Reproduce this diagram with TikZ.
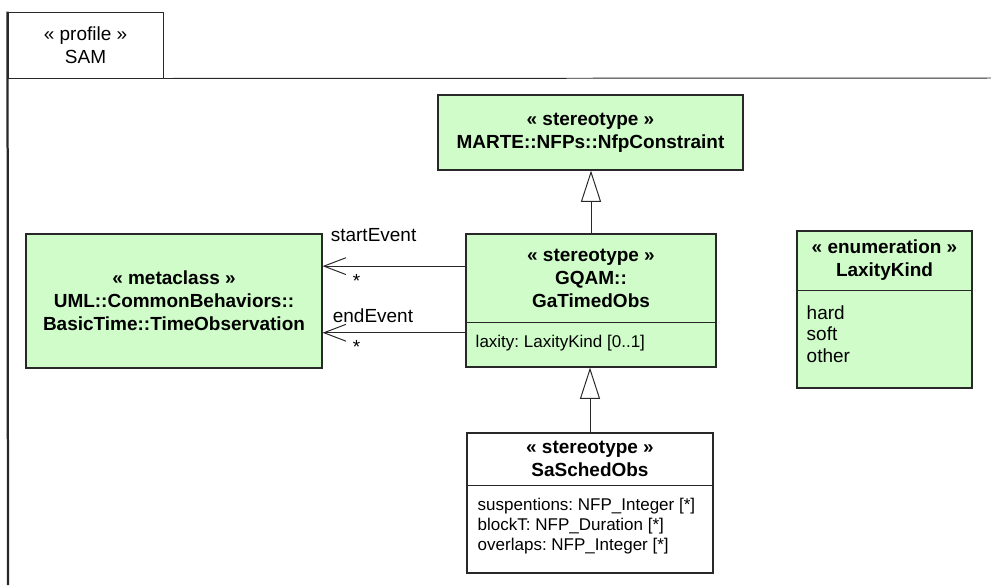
\documentclass[tikz,border=0pt]{standalone}
\usepackage{fontspec}
\setmainfont{Liberation Sans}
\usetikzlibrary{arrows.meta,calc,positioning}
\definecolor{SAMverde}{RGB}{208,252,202}
\definecolor{SAMborde}{RGB}{40,40,40}
\frenchspacing
\tikzset{
  umlbox/.style={draw=SAMborde, line width=0.8pt, fill=SAMverde, inner sep=0pt},
  titulo/.style={font=\fontsize{13.5}{16.4}\selectfont\bfseries, align=center, inner sep=0pt},
  attr/.style={font=\fontsize{12.1}{14.2}\selectfont, align=left, inner sep=0pt, anchor=north west},
  literal/.style={font=\fontsize{13.5}{15.2}\selectfont, align=left, inner sep=0pt, anchor=north west},
  etiq/.style={font=\fontsize{13.5}{16.4}\selectfont, inner sep=0pt},
  genarrow/.style={draw=SAMborde, line width=0.7pt, -{Triangle[open, length=0.78cm, width=0.5cm]}},
  assoc/.style={draw=SAMborde, line width=0.7pt, -{Straight Barb[length=0.55cm, width=0.42cm]}},
}

\begin{document}
\begin{tikzpicture}
\useasboundingbox (0,0) rectangle (24.775,-14.625);
% marco del perfil
\node[etiq, draw=SAMborde, line width=0.7pt, align=center, minimum width=3.875cm, minimum height=1.65cm] (perfil) at (2.1375,-1.125) {« profile »\\SAM};
\draw[SAMborde, line width=0.7pt] (perfil.south east) -- (24.775,-1.95);
\draw[SAMborde, line width=1.6pt] (perfil.north west) -- (0.2,-14.625);

% clases
\node[umlbox, titulo, minimum width=7.625cm, minimum height=1.875cm] (nfp) at (14.7625,-3.3125) {« stereotype »\\MARTE::NFPs::NfpConstraint};
\node[umlbox, titulo, minimum width=7.4cm, minimum height=3.35cm] (timeobs) at (4.35,-7.525) {« metaclass »\\UML::CommonBehaviors::\\BasicTime::TimeObservation};

\node[umlbox, minimum width=6.25cm, minimum height=3.325cm] (gatimed) at (14.775,-7.5125) {};
\draw[SAMborde, line width=0.8pt] ([yshift=-2.2325cm]gatimed.north west) -- ([yshift=-2.2325cm]gatimed.north east);
\node[titulo] (gatimedtit) at ([yshift=-1.116cm]gatimed.north) {« stereotype »\\GQAM::\\GaTimedObs};
\node[attr] (gatimedattr) at ([xshift=0.25cm,yshift=-2.5475cm]gatimed.north west) {laxity: LaxityKind [0..1]};

\node[umlbox, fill=white, minimum width=6.15cm, minimum height=3.5cm] (sasched) at (14.75,-12.575) {};
\draw[SAMborde, line width=0.8pt] ([yshift=-1.325cm]sasched.north west) -- ([yshift=-1.325cm]sasched.north east);
\node[titulo] (saschedtit) at ([yshift=-0.6625cm]sasched.north) {« stereotype »\\SaSchedObs};
\node[attr] (saschedattr) at ([xshift=0.275cm,yshift=-1.6325cm]sasched.north west) {suspentions: NFP\_Integer [*]\\blockT: NFP\_Duration [*]\\overlaps: NFP\_Integer [*]};

\node[umlbox, minimum width=4.375cm, minimum height=3.925cm] (laxity) at (22.1125,-7.7375) {};
\draw[SAMborde, line width=0.8pt] ([yshift=-1.5cm]laxity.north west) -- ([yshift=-1.5cm]laxity.north east);
\node[titulo] (laxitytit) at ([yshift=-0.75cm]laxity.north) {« enumeration »\\LaxityKind};
\node[literal] (laxitylit) at ([xshift=0.25cm,yshift=-1.875cm]laxity.north west) {hard\\soft\\other};

% generalizaciones
\draw[genarrow] (gatimed.north) -- (gatimed.north |- nfp.south);
\draw[genarrow] (sasched.north) -- (sasched.north |- gatimed.south);

% asociaciones
\coordinate (inicio) at ([yshift=-0.8175cm]gatimed.north west);
\coordinate (fin) at ([yshift=-2.4825cm]gatimed.north west);
\coordinate (inicioT) at (inicio -| timeobs.east);
\coordinate (finT) at (fin -| timeobs.east);
\draw[assoc] (inicio) -- (inicioT);
\draw[assoc] (fin) -- (finT);
\node[etiq, anchor=base west] (startlbl) at ([xshift=0.2cm,yshift=0.625cm]inicioT) {startEvent};
\node[etiq, anchor=base] (startmul) at ([xshift=0.85cm,yshift=-0.53cm]inicioT) {*};
\node[etiq, anchor=base west] (endlbl) at ([xshift=0.25cm,yshift=0.25cm]finT) {endEvent};
\node[etiq, anchor=base] (endmul) at ([xshift=0.85cm,yshift=-0.53cm]finT) {*};
\end{tikzpicture}
\end{document}
